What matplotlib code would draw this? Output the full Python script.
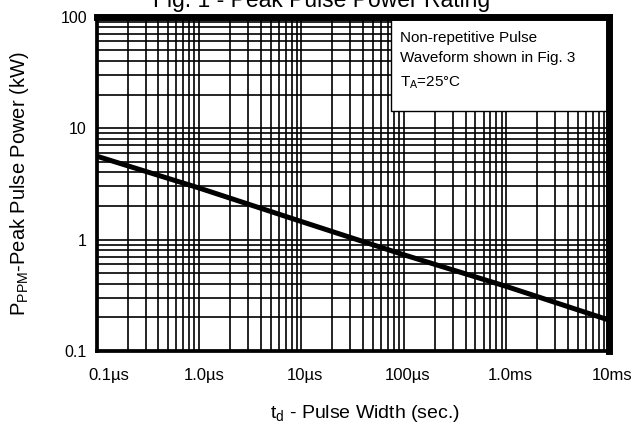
import matplotlib
matplotlib.use("Agg")
import matplotlib.pyplot as plt
import matplotlib.transforms as mtransforms
from matplotlib.patches import Rectangle

plt.rcParams['font.family'] = ['Liberation Sans', 'DejaVu Sans']
plt.rcParams['mathtext.fontset'] = 'custom'
plt.rcParams['mathtext.rm'] = 'Liberation Sans'
plt.rcParams['mathtext.it'] = 'Liberation Sans'
plt.rcParams['mathtext.default'] = 'rm'

# Data (pulse width in seconds, peak pulse power in kW)
pulse_width = [1e-7, 1e-6, 1e-5, 1e-4, 1e-3, 1e-2]
peak_power = [5.6, 2.9, 1.45, 0.73, 0.38, 0.19]

x_ticks = [1e-7, 1e-6, 1e-5, 1e-4, 1e-3, 1e-2]
x_tick_labels = ["0.1µs", "1.0µs", "10µs", "100µs", "1.0ms", "10ms"]
y_ticks = [0.1, 1, 10, 100]
y_tick_labels = ["0.1", "1", "10", "100"]

title = "Fig. 1 - Peak Pulse Power Rating"
xlabel = r"t$_{\mathrm{d}}$ - Pulse Width (sec.)"
ylabel = r"P$_{\mathrm{PPM}}$-Peak Pulse Power (kW)"
note_lines = ["Non-repetitive Pulse", "Waveform shown in Fig. 3", r"T$_{\mathrm{A}}$=25°C"]

fig = plt.figure(figsize=(6.34, 4.25), dpi=100)
ax = fig.add_axes([0.1525, 0.174, 0.8075, 0.787])

ax.set_xscale('log')
ax.set_yscale('log')
ax.set_xlim(1e-7, 1e-2)
ax.set_ylim(0.1, 100)

ax.grid(True, which='both', color='black', linewidth=1.2)

ax.plot(pulse_width, peak_power, color='black', linewidth=3.6, solid_capstyle='butt', zorder=3)

ax.set_xticks(x_ticks)
ax.set_xticklabels(x_tick_labels)
ax.set_yticks(y_ticks)
ax.set_yticklabels(y_tick_labels)
ax.tick_params(which='both', length=0)
ax.tick_params(axis='x', labelsize=12, pad=12)
ax.tick_params(axis='y', labelsize=11.5, pad=7)

# small rightward shifts of x tick labels as in the reference
shifts = [12, 5, 3, 4, 4, 3]
for lab, dx in zip(ax.get_xticklabels(), shifts):
    lab.set_transform(lab.get_transform() +
                      mtransforms.ScaledTranslation(dx / 100, 0, fig.dpi_scale_trans))

for side in ['left', 'bottom']:
    ax.spines[side].set_linewidth(2.7)
for side in ['top', 'right']:
    ax.spines[side].set_linewidth(5.0)
for s in ax.spines.values():
    s.set_color('black')
    s.set_zorder(4)

# note box
ax.add_patch(Rectangle((0.575, 0.717), 0.43, 0.29, transform=ax.transAxes,
                       facecolor='white', edgecolor='black', linewidth=1.0, zorder=2.6))
ys = [0.935, 0.875, 0.803]
for t, yy in zip(note_lines, ys):
    ax.text(0.593, yy, t, transform=ax.transAxes, fontsize=11, va='center', ha='left', zorder=5)

ax.set_xlabel(xlabel, fontsize=14)
ax.xaxis.set_label_coords(0.524, -0.155)
ax.set_ylabel(ylabel, fontsize=14.5)
ax.yaxis.set_label_coords(-0.128, 0.5)

fig.text(322 / 634, 1 - 7.5 / 425, title, fontsize=16.5, ha='center', va='baseline')

fig.savefig("out.png", dpi=100)
